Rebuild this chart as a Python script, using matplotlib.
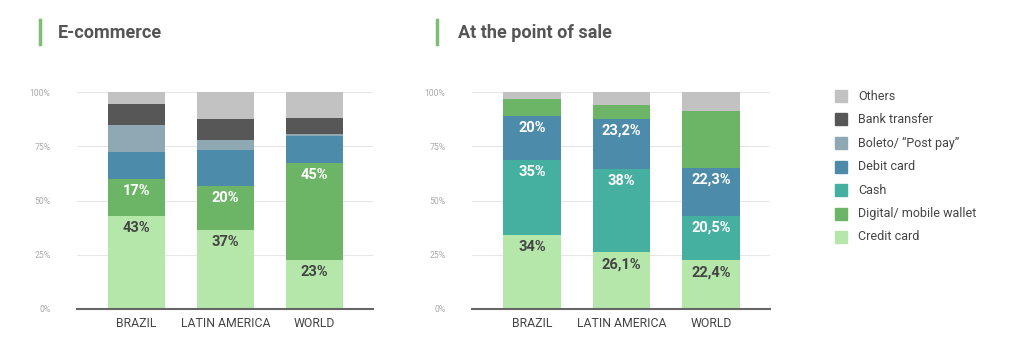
import numpy as np
import matplotlib.pyplot as plt

countries = ["BRAZIL", "LATIN AMERICA", "WORLD"]
series = ["Credit card", "Digital/ mobile wallet", "Cash", "Debit card",
          "Boleto/ \u201cPost pay\u201d", "Bank transfer", "Others"]
colors = ["#b5e6aa", "#6cb566", "#45b0a0", "#4d8bab", "#8ea8b4", "#575757", "#c2c2c2"]
color_of = dict(zip(series, colors))

# stacking order, bottom to top
ecom_order = ["Credit card", "Digital/ mobile wallet", "Debit card",
              "Boleto/ \u201cPost pay\u201d", "Bank transfer", "Others"]
pos_order = ["Credit card", "Cash", "Debit card", "Digital/ mobile wallet", "Others"]

# e-commerce shares (%)
ecom = {
    "Credit card": [43, 36.5, 22.7],
    "Digital/ mobile wallet": [17, 20, 44.6],
    "Debit card": [12.4, 16.9, 12.6],
    "Boleto/ \u201cPost pay\u201d": [12.3, 4.7, 0.8],
    "Bank transfer": [9.6, 9.5, 7.5],
    "Others": [5.7, 12.4, 11.8],
}
ecom_labels = {
    "Credit card": ["43%", "37%", "23%"],
    "Digital/ mobile wallet": ["17%", "20%", "45%"],
}

# point of sale shares (%)
pos = {
    "Credit card": [34, 26.1, 22.4],
    "Cash": [34.6, 38.6, 20.5],
    "Debit card": [20.2, 23, 22.3],
    "Digital/ mobile wallet": [8, 6.2, 26.1],
    "Others": [3.2, 6.1, 8.7],
}
pos_labels = {
    "Credit card": ["34%", "26,1%", "22,4%"],
    "Cash": ["35%", "38%", "20,5%"],
    "Debit card": ["20%", "23,2%", "22,3%"],
}

yticks = [0, 25, 50, 75, 100]
ytick_labels = ["0%", "25%", "50%", "75%", "100%"]

plt.rcParams['font.family'] = ['Roboto', 'DejaVu Sans']
fig = plt.figure(figsize=(10.24, 3.56), dpi=100)
fig.patch.set_facecolor('white')


def draw(ax, order, data, labels):
    x = np.arange(len(countries))
    bottom = np.zeros(len(countries))
    for name in order:
        vals = np.array(data[name], dtype=float)
        ax.bar(x, vals, 0.64, bottom=bottom, color=color_of[name], zorder=2)
        if name in labels:
            for i, t in enumerate(labels[name]):
                tc = "#444444" if name == "Credit card" else "white"
                ax.text(x[i], bottom[i] + vals[i] - 5.5, t, ha='center', va='center',
                        fontsize=10.5, fontweight='bold', color=tc, zorder=3)
        bottom += vals
    ax.set_xlim(-0.67, 2.66)
    ax.set_ylim(0, 100)
    ax.set_yticks(yticks)
    ax.set_yticklabels(ytick_labels)
    ax.set_xticks(x)
    ax.set_xticklabels(countries)
    ax.tick_params(axis='y', length=0, labelsize=6.2, labelcolor='#aaaaaa', pad=19)
    ax.tick_params(axis='x', length=0, labelsize=8.8, labelcolor='#444444', pad=6)
    ax.grid(axis='y', color='#e6e6e6', linewidth=0.8, zorder=0)
    for s in ['top', 'right', 'left']:
        ax.spines[s].set_visible(False)
    ax.spines['bottom'].set_color('#666666')
    ax.spines['bottom'].set_linewidth(1.5)
    ax.spines['bottom'].set_zorder(4)


ax1 = fig.add_axes([77 / 1024, 1 - 309 / 356, 296 / 1024, 217 / 356])
ax2 = fig.add_axes([472 / 1024, 1 - 309 / 356, 298 / 1024, 217 / 356])
draw(ax1, ecom_order, ecom, ecom_labels)
draw(ax2, pos_order, pos, pos_labels)

# titles with green accent bars
for xb, xt, title in [(40, 58, "E-commerce"), (437, 458, "At the point of sale")]:
    fig.add_artist(plt.Line2D([xb / 1024, xb / 1024], [1 - 20 / 356, 1 - 44 / 356],
                              color='#7cbf72', linewidth=2.5))
    fig.text(xt / 1024, 1 - 33 / 356, title, fontsize=13, fontweight='bold',
             color='#555555', va='center', ha='left')

# legend
for k, (name, col) in enumerate(zip(series[::-1], colors[::-1])):
    yc = 96 + k * 23.5
    fig.add_artist(plt.Rectangle((835 / 1024, 1 - (yc + 6) / 356), 12 / 1024, 12 / 356,
                                 color=col, transform=fig.transFigure))
    fig.text(858 / 1024, 1 - yc / 356, name, fontsize=9, color='#444444',
             va='center', ha='left')

fig.savefig("out.png", dpi=100)
